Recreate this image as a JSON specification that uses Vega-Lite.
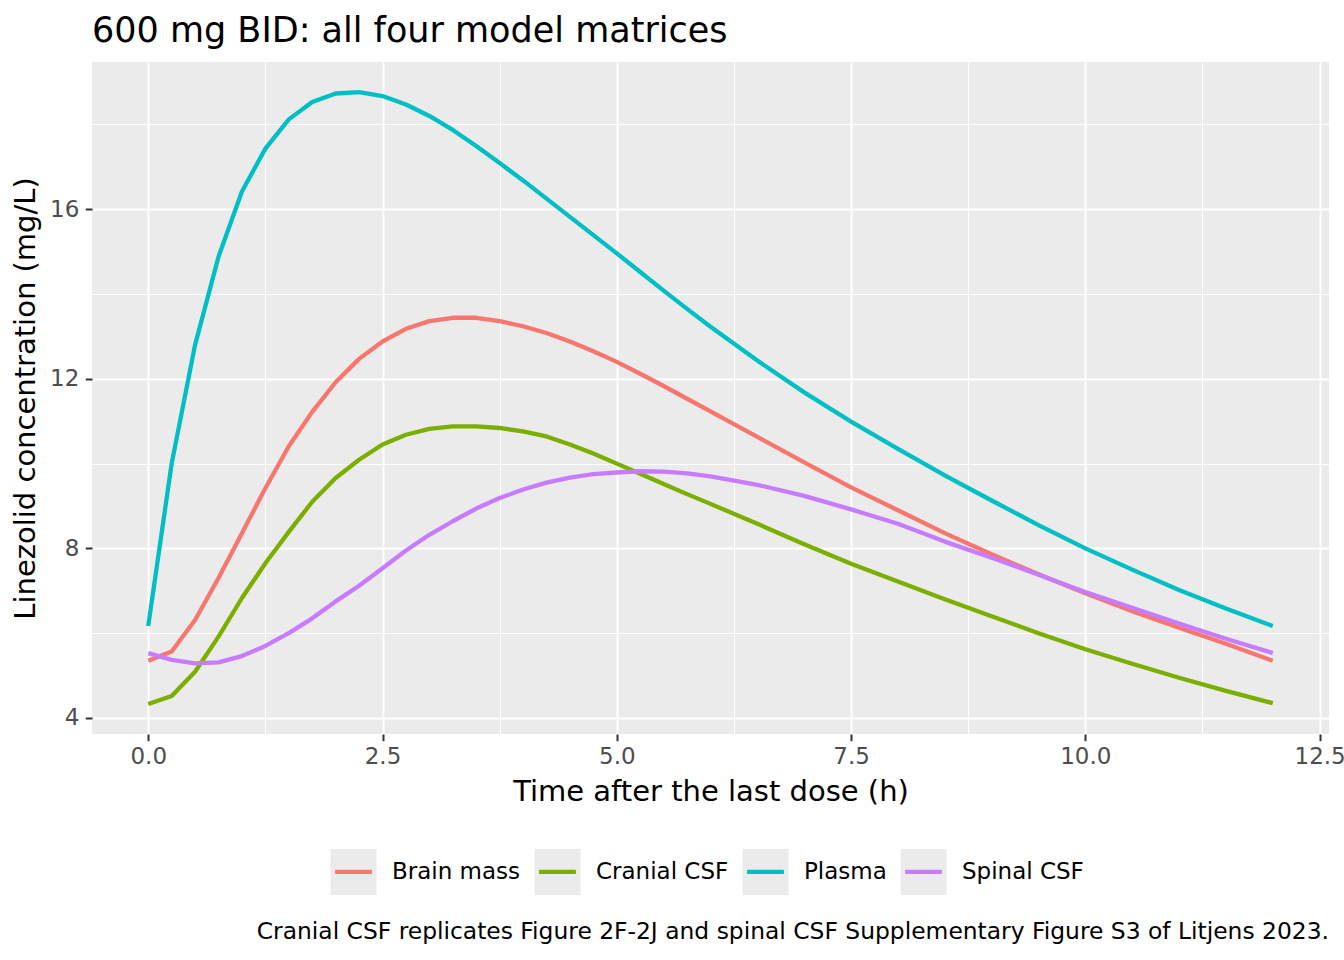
{
  "$schema": "https://vega.github.io/schema/vega-lite/v6.json",
  "autosize": {"type": "none"},
  "padding": {"left": 92, "top": 62, "right": 15, "bottom": 898},
  "background": "white",
  "title": {
    "text": "Cranial CSF replicates Figure 2F-2J and spinal CSF Supplementary Figure S3 of Litjens 2023.",
    "orient": "bottom",
    "anchor": "end",
    "frame": "group",
    "font": "DejaVu Sans",
    "fontSize": 23.4,
    "fontWeight": "normal",
    "color": "black",
    "offset": 17
  },
  "vconcat": [
    {
      "width": 1237,
      "height": 672,
      "title": {
        "text": "600 mg BID: all four model matrices",
        "anchor": "start",
        "frame": "group",
        "font": "DejaVu Sans",
        "fontSize": 35,
        "fontWeight": "normal",
        "color": "black",
        "offset": 13
      },
      "data": {
        "values": [
          {"t": 0, "c": 5.35, "s": "Brain mass"},
          {"t": 0.25, "c": 5.57, "s": "Brain mass"},
          {"t": 0.5, "c": 6.31, "s": "Brain mass"},
          {"t": 0.75, "c": 7.30, "s": "Brain mass"},
          {"t": 1.0, "c": 8.36, "s": "Brain mass"},
          {"t": 1.25, "c": 9.42, "s": "Brain mass"},
          {"t": 1.5, "c": 10.41, "s": "Brain mass"},
          {"t": 1.75, "c": 11.22, "s": "Brain mass"},
          {"t": 2.0, "c": 11.92, "s": "Brain mass"},
          {"t": 2.25, "c": 12.47, "s": "Brain mass"},
          {"t": 2.5, "c": 12.88, "s": "Brain mass"},
          {"t": 2.75, "c": 13.18, "s": "Brain mass"},
          {"t": 3.0, "c": 13.36, "s": "Brain mass"},
          {"t": 3.25, "c": 13.44, "s": "Brain mass"},
          {"t": 3.5, "c": 13.44, "s": "Brain mass"},
          {"t": 3.75, "c": 13.36, "s": "Brain mass"},
          {"t": 4.0, "c": 13.24, "s": "Brain mass"},
          {"t": 4.25, "c": 13.08, "s": "Brain mass"},
          {"t": 4.5, "c": 12.88, "s": "Brain mass"},
          {"t": 4.75, "c": 12.65, "s": "Brain mass"},
          {"t": 5.0, "c": 12.40, "s": "Brain mass"},
          {"t": 5.25, "c": 12.12, "s": "Brain mass"},
          {"t": 5.5, "c": 11.83, "s": "Brain mass"},
          {"t": 5.75, "c": 11.53, "s": "Brain mass"},
          {"t": 6.0, "c": 11.23, "s": "Brain mass"},
          {"t": 6.5, "c": 10.63, "s": "Brain mass"},
          {"t": 7.0, "c": 10.03, "s": "Brain mass"},
          {"t": 7.5, "c": 9.44, "s": "Brain mass"},
          {"t": 8.0, "c": 8.90, "s": "Brain mass"},
          {"t": 8.5, "c": 8.36, "s": "Brain mass"},
          {"t": 9.0, "c": 7.86, "s": "Brain mass"},
          {"t": 9.5, "c": 7.39, "s": "Brain mass"},
          {"t": 10.0, "c": 6.94, "s": "Brain mass"},
          {"t": 10.5, "c": 6.52, "s": "Brain mass"},
          {"t": 11.0, "c": 6.13, "s": "Brain mass"},
          {"t": 11.5, "c": 5.75, "s": "Brain mass"},
          {"t": 12.0, "c": 5.35, "s": "Brain mass"},

          {"t": 0, "c": 4.33, "s": "Cranial CSF"},
          {"t": 0.25, "c": 4.52, "s": "Cranial CSF"},
          {"t": 0.5, "c": 5.09, "s": "Cranial CSF"},
          {"t": 0.75, "c": 5.92, "s": "Cranial CSF"},
          {"t": 1.0, "c": 6.83, "s": "Cranial CSF"},
          {"t": 1.25, "c": 7.65, "s": "Cranial CSF"},
          {"t": 1.5, "c": 8.39, "s": "Cranial CSF"},
          {"t": 1.75, "c": 9.10, "s": "Cranial CSF"},
          {"t": 2.0, "c": 9.66, "s": "Cranial CSF"},
          {"t": 2.25, "c": 10.09, "s": "Cranial CSF"},
          {"t": 2.5, "c": 10.45, "s": "Cranial CSF"},
          {"t": 2.75, "c": 10.68, "s": "Cranial CSF"},
          {"t": 3.0, "c": 10.82, "s": "Cranial CSF"},
          {"t": 3.25, "c": 10.88, "s": "Cranial CSF"},
          {"t": 3.5, "c": 10.88, "s": "Cranial CSF"},
          {"t": 3.75, "c": 10.84, "s": "Cranial CSF"},
          {"t": 4.0, "c": 10.76, "s": "Cranial CSF"},
          {"t": 4.25, "c": 10.64, "s": "Cranial CSF"},
          {"t": 4.5, "c": 10.45, "s": "Cranial CSF"},
          {"t": 4.75, "c": 10.24, "s": "Cranial CSF"},
          {"t": 5.0, "c": 10.00, "s": "Cranial CSF"},
          {"t": 5.25, "c": 9.76, "s": "Cranial CSF"},
          {"t": 5.5, "c": 9.52, "s": "Cranial CSF"},
          {"t": 5.75, "c": 9.28, "s": "Cranial CSF"},
          {"t": 6.0, "c": 9.05, "s": "Cranial CSF"},
          {"t": 6.5, "c": 8.58, "s": "Cranial CSF"},
          {"t": 7.0, "c": 8.10, "s": "Cranial CSF"},
          {"t": 7.5, "c": 7.64, "s": "Cranial CSF"},
          {"t": 8.0, "c": 7.22, "s": "Cranial CSF"},
          {"t": 8.5, "c": 6.80, "s": "Cranial CSF"},
          {"t": 9.0, "c": 6.40, "s": "Cranial CSF"},
          {"t": 9.5, "c": 6.00, "s": "Cranial CSF"},
          {"t": 10.0, "c": 5.62, "s": "Cranial CSF"},
          {"t": 10.5, "c": 5.28, "s": "Cranial CSF"},
          {"t": 11.0, "c": 4.95, "s": "Cranial CSF"},
          {"t": 11.5, "c": 4.64, "s": "Cranial CSF"},
          {"t": 12.0, "c": 4.35, "s": "Cranial CSF"},

          {"t": 0, "c": 6.17, "s": "Plasma"},
          {"t": 0.25, "c": 10.00, "s": "Plasma"},
          {"t": 0.5, "c": 12.80, "s": "Plasma"},
          {"t": 0.75, "c": 14.88, "s": "Plasma"},
          {"t": 1.0, "c": 16.42, "s": "Plasma"},
          {"t": 1.25, "c": 17.43, "s": "Plasma"},
          {"t": 1.5, "c": 18.12, "s": "Plasma"},
          {"t": 1.75, "c": 18.53, "s": "Plasma"},
          {"t": 2.0, "c": 18.73, "s": "Plasma"},
          {"t": 2.25, "c": 18.76, "s": "Plasma"},
          {"t": 2.5, "c": 18.67, "s": "Plasma"},
          {"t": 2.75, "c": 18.47, "s": "Plasma"},
          {"t": 3.0, "c": 18.20, "s": "Plasma"},
          {"t": 3.25, "c": 17.87, "s": "Plasma"},
          {"t": 3.5, "c": 17.49, "s": "Plasma"},
          {"t": 3.75, "c": 17.09, "s": "Plasma"},
          {"t": 4.0, "c": 16.68, "s": "Plasma"},
          {"t": 4.25, "c": 16.25, "s": "Plasma"},
          {"t": 4.5, "c": 15.82, "s": "Plasma"},
          {"t": 4.75, "c": 15.39, "s": "Plasma"},
          {"t": 5.0, "c": 14.96, "s": "Plasma"},
          {"t": 5.25, "c": 14.52, "s": "Plasma"},
          {"t": 5.5, "c": 14.08, "s": "Plasma"},
          {"t": 5.75, "c": 13.65, "s": "Plasma"},
          {"t": 6.0, "c": 13.23, "s": "Plasma"},
          {"t": 6.5, "c": 12.43, "s": "Plasma"},
          {"t": 7.0, "c": 11.68, "s": "Plasma"},
          {"t": 7.5, "c": 10.99, "s": "Plasma"},
          {"t": 8.0, "c": 10.35, "s": "Plasma"},
          {"t": 8.5, "c": 9.72, "s": "Plasma"},
          {"t": 9.0, "c": 9.13, "s": "Plasma"},
          {"t": 9.5, "c": 8.55, "s": "Plasma"},
          {"t": 10.0, "c": 8.00, "s": "Plasma"},
          {"t": 10.5, "c": 7.50, "s": "Plasma"},
          {"t": 11.0, "c": 7.02, "s": "Plasma"},
          {"t": 11.5, "c": 6.58, "s": "Plasma"},
          {"t": 12.0, "c": 6.17, "s": "Plasma"},

          {"t": 0, "c": 5.53, "s": "Spinal CSF"},
          {"t": 0.25, "c": 5.37, "s": "Spinal CSF"},
          {"t": 0.5, "c": 5.29, "s": "Spinal CSF"},
          {"t": 0.75, "c": 5.31, "s": "Spinal CSF"},
          {"t": 1.0, "c": 5.46, "s": "Spinal CSF"},
          {"t": 1.25, "c": 5.70, "s": "Spinal CSF"},
          {"t": 1.5, "c": 6.00, "s": "Spinal CSF"},
          {"t": 1.75, "c": 6.35, "s": "Spinal CSF"},
          {"t": 2.0, "c": 6.75, "s": "Spinal CSF"},
          {"t": 2.25, "c": 7.12, "s": "Spinal CSF"},
          {"t": 2.5, "c": 7.53, "s": "Spinal CSF"},
          {"t": 2.75, "c": 7.95, "s": "Spinal CSF"},
          {"t": 3.0, "c": 8.32, "s": "Spinal CSF"},
          {"t": 3.25, "c": 8.64, "s": "Spinal CSF"},
          {"t": 3.5, "c": 8.94, "s": "Spinal CSF"},
          {"t": 3.75, "c": 9.19, "s": "Spinal CSF"},
          {"t": 4.0, "c": 9.39, "s": "Spinal CSF"},
          {"t": 4.25, "c": 9.55, "s": "Spinal CSF"},
          {"t": 4.5, "c": 9.67, "s": "Spinal CSF"},
          {"t": 4.75, "c": 9.75, "s": "Spinal CSF"},
          {"t": 5.0, "c": 9.79, "s": "Spinal CSF"},
          {"t": 5.25, "c": 9.82, "s": "Spinal CSF"},
          {"t": 5.5, "c": 9.81, "s": "Spinal CSF"},
          {"t": 5.75, "c": 9.77, "s": "Spinal CSF"},
          {"t": 6.0, "c": 9.70, "s": "Spinal CSF"},
          {"t": 6.5, "c": 9.50, "s": "Spinal CSF"},
          {"t": 7.0, "c": 9.24, "s": "Spinal CSF"},
          {"t": 7.5, "c": 8.92, "s": "Spinal CSF"},
          {"t": 8.0, "c": 8.58, "s": "Spinal CSF"},
          {"t": 8.5, "c": 8.16, "s": "Spinal CSF"},
          {"t": 9.0, "c": 7.78, "s": "Spinal CSF"},
          {"t": 9.5, "c": 7.38, "s": "Spinal CSF"},
          {"t": 10.0, "c": 6.97, "s": "Spinal CSF"},
          {"t": 10.5, "c": 6.60, "s": "Spinal CSF"},
          {"t": 11.0, "c": 6.23, "s": "Spinal CSF"},
          {"t": 11.5, "c": 5.87, "s": "Spinal CSF"},
          {"t": 12.0, "c": 5.53, "s": "Spinal CSF"}
        ]
      },
      "mark": {"type": "line", "strokeWidth": 4.3, "strokeJoin": "round", "strokeCap": "butt"},
      "encoding": {
        "x": {
          "field": "t",
          "type": "quantitative",
          "scale": {"domain": [-0.6, 12.6], "nice": false, "zero": false},
          "axis": {
            "title": "Time after the last dose (h)",
            "values": [0, 1.25, 2.5, 3.75, 5, 6.25, 7.5, 8.75, 10, 11.25, 12.5],
            "labelExpr": "datum.value % 2.5 === 0 ? format(datum.value, '.1f') : ''",
            "gridWidth": {"condition": {"test": "datum.value % 2.5 !== 0", "value": 1}, "value": 2},
            "tickOpacity": {"condition": {"test": "datum.value % 2.5 !== 0", "value": 0}, "value": 1},
            "labelPadding": 5,
            "titlePadding": 9
          }
        },
        "y": {
          "field": "c",
          "type": "quantitative",
          "scale": {"domain": [3.622, 19.473], "nice": false, "zero": false},
          "axis": {
            "title": "Linezolid concentration (mg/L)",
            "values": [4, 6, 8, 10, 12, 14, 16, 18],
            "labelExpr": "datum.value % 4 === 0 ? format(datum.value, 'd') : ''",
            "gridWidth": {"condition": {"test": "datum.value % 4 !== 0", "value": 1}, "value": 2},
            "tickOpacity": {"condition": {"test": "datum.value % 4 !== 0", "value": 0}, "value": 1},
            "labelPadding": 6.5,
            "titlePadding": 9
          }
        },
        "color": {
          "field": "s",
          "type": "nominal",
          "scale": {
            "domain": ["Brain mass", "Cranial CSF", "Plasma", "Spinal CSF"],
            "range": ["#F8766D", "#7CAE00", "#00BFC4", "#C77CFF"]
          },
          "legend": {
            "title": null,
            "orient": "none",
            "legendX": 236,
            "legendY": 784,
            "direction": "horizontal",
            "symbolType": "M -0.8 0 L 0.8 0 L 1 0 L 1 -1 L -1 -1 L -1 1 L 1 1 L 1 0 Z",
            "symbolSize": 2116,
            "symbolStrokeWidth": 4.3,
            "symbolFillColor": "#EBEBEB",
            "symbolDash": [36.8, 400],
            "symbolOpacity": 1,
            "labelFont": "DejaVu Sans",
            "labelFontSize": 23,
            "labelColor": "black",
            "labelOffset": 13,
            "columnPadding": 4,
            "padding": 0
          }
        }
      }
    }
  ],
  "config": {
    "font": "DejaVu Sans",
    "view": {"fill": "#EBEBEB", "stroke": null},
    "concat": {"spacing": 0},
    "axis": {
      "domain": false,
      "grid": true,
      "gridColor": "white",
      "labelFont": "DejaVu Sans",
      "labelFontSize": 23,
      "labelColor": "#4D4D4D",
      "tickColor": "#333333",
      "tickSize": 6.7,
      "tickWidth": 2,
      "titleFont": "DejaVu Sans",
      "titleFontSize": 29,
      "titleFontWeight": "normal",
      "titleColor": "black"
    }
  }
}
